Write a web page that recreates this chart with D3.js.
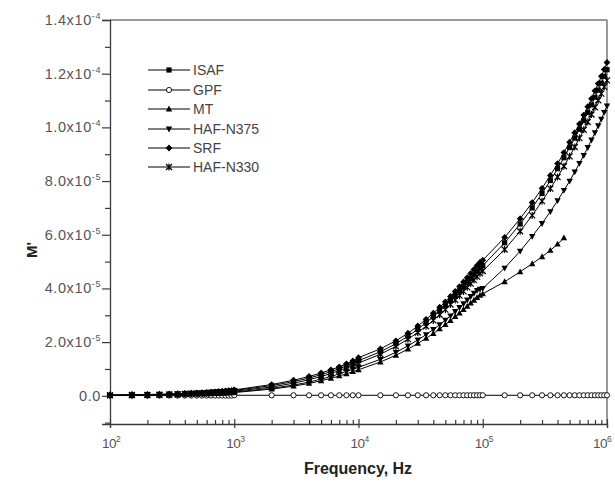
<!DOCTYPE html>
<html><head><meta charset="utf-8">
<script src="https://cdn.jsdelivr.net/npm/d3@7"></script>
<style>body{margin:0;background:#fff}svg{display:block}</style>
</head><body>
<svg id="chart" width="615" height="484"></svg>
<script>
// Frequencies (Hz)
const freqDec2 = [100,150,200,250,300,350,400,450,500,550,600,650,700,750,800,850,900,950];
const freqDec3 = [1000,2000,3000,4000,5000,6000,7000,8000,9000];
const freqDec4 = [10000,15000,20000,25000,30000,35000,40000,45000,50000,55000,60000,65000,70000,75000,80000,85000,90000,95000];
const freqDec5 = [100000,150000,200000,250000,300000,350000,400000,450000,500000,550000,600000,650000,700000,750000,800000,850000,900000,950000,1000000];
const frequency = freqDec2.concat(freqDec3, freqDec4, freqDec5);

// M' values in units of 1e-5
const ISAF = [0.02,0.03,0.04,0.05,0.06,0.07,0.08,0.09,0.10,0.11,0.12,0.13,0.14,0.15,0.15,0.16,0.17,0.18,
  0.20,0.38,0.53,0.66,0.79,0.90,1.01,1.11,1.21,
  1.31,1.64,1.94,2.22,2.48,2.72,2.95,3.16,3.36,3.55,3.73,3.90,4.06,4.22,4.37,4.51,4.64,4.76,
  4.85,5.70,6.40,7.00,7.54,8.02,8.46,8.87,9.25,9.60,9.93,10.25,10.55,10.84,11.12,11.39,11.65,11.90,12.15];
const GPF = [0.01,0.01,0.01,0.01,0.01,0.01,0.01,0.01,0.01,0.01,0.01,0.01,0.01,0.01,0.01,0.01,0.01,0.01,
  0.02,0.02,0.02,0.02,0.02,0.02,0.02,0.02,0.02,
  0.02,0.02,0.02,0.02,0.02,0.02,0.02,0.02,0.02,0.02,0.02,0.02,0.02,0.02,0.02,0.02,0.02,0.02,
  0.02,0.02,0.02,0.02,0.02,0.02,0.02,0.02,0.02,0.02,0.02,0.02,0.02,0.02,0.02,0.02,0.02,0.02,0.02];
const MT = [0.02,0.02,0.03,0.03,0.04,0.04,0.05,0.06,0.06,0.07,0.07,0.08,0.08,0.09,0.10,0.10,0.11,0.11,
  0.12,0.25,0.36,0.46,0.56,0.65,0.74,0.82,0.90,
  0.97,1.26,1.51,1.74,1.95,2.14,2.32,2.49,2.65,2.80,2.95,3.08,3.21,3.33,3.45,3.56,3.66,3.74,
  3.80,4.25,4.62,4.92,5.18,5.42,5.65,5.88];
const HAF_N375 = [0.02,0.02,0.03,0.04,0.04,0.05,0.06,0.06,0.07,0.08,0.08,0.09,0.10,0.10,0.11,0.12,0.12,0.13,
  0.14,0.28,0.40,0.51,0.62,0.72,0.82,0.91,0.99,
  1.06,1.36,1.62,1.86,2.08,2.28,2.47,2.65,2.82,2.98,3.14,3.29,3.43,3.57,3.70,3.82,3.93,3.97,
  4.00,4.76,5.39,5.94,6.42,6.86,7.27,7.65,8.00,8.34,8.66,8.96,9.25,9.53,9.80,10.06,10.31,10.56,10.80];
const SRF = [0.03,0.04,0.05,0.06,0.07,0.08,0.09,0.10,0.11,0.12,0.13,0.14,0.15,0.16,0.17,0.18,0.19,0.20,
  0.22,0.42,0.58,0.72,0.85,0.97,1.08,1.19,1.30,
  1.42,1.75,2.05,2.33,2.60,2.85,3.08,3.30,3.50,3.70,3.89,4.07,4.24,4.40,4.56,4.71,4.85,4.97,
  5.05,5.90,6.60,7.20,7.73,8.21,8.65,9.06,9.45,9.80,10.13,10.46,10.77,11.07,11.36,11.63,11.90,12.16,12.42];
const HAF_N330 = [0.02,0.03,0.03,0.04,0.05,0.06,0.07,0.08,0.08,0.09,0.10,0.11,0.12,0.12,0.13,0.14,0.15,0.16,
  0.17,0.33,0.47,0.60,0.72,0.83,0.94,1.04,1.13,
  1.22,1.55,1.84,2.11,2.36,2.59,2.81,3.02,3.21,3.40,3.57,3.73,3.89,4.04,4.18,4.31,4.44,4.56,
  4.65,5.45,6.13,6.72,7.25,7.72,8.15,8.55,8.92,9.27,9.60,9.91,10.20,10.48,10.75,11.01,11.26,11.51,11.75];

const seriesNames = ["ISAF","GPF","MT","HAF-N375","SRF","HAF-N330"];
const seriesValues = [ISAF, GPF, MT, HAF_N375, SRF, HAF_N330];
const seriesSymbols = ["square","circleOpen","triUp","triDown","diamond","asterisk"];

const yTickValues = [0,2,4,6,8,10,12,14];
const yTickMant = ["0.0","2.0x10","4.0x10","6.0x10","8.0x10","1.0x10","1.2x10","1.4x10"];
const yTickExp = ["","-5","-5","-5","-5","-4","-4","-4"];
const xTickValues = [1e2,1e3,1e4,1e5,1e6];
const xTickExp = ["2","3","4","5","6"];

const svg = d3.select("#chart");
const L = 110, R = 607, T = 20, B = 424;
const x = d3.scaleLog().domain([1e2,1e6]).range([L,R]);
const y = d3.scaleLinear().domain([-1.05,14]).range([B,T]);

const axisColor = "#3a3a3a", labelColor = "#555";
const font = "Arial, 'Liberation Sans', sans-serif";

// frame
svg.append("line").attr("x1",L).attr("x2",R).attr("y1",T).attr("y2",T).attr("stroke","#777").attr("stroke-width",1.5);
svg.append("line").attr("x1",R).attr("x2",R).attr("y1",T).attr("y2",B).attr("stroke","#777").attr("stroke-width",1.5);

// y axis
const yMinor = d3.range(-1,15,2);
const yAxis = d3.axisLeft(y).tickValues(yTickValues).tickSize(8).tickFormat("");
const gy = svg.append("g").attr("transform",`translate(${L},0)`).call(yAxis);
gy.selectAll("line").attr("stroke",axisColor).attr("stroke-width",1.2);
gy.select(".domain").attr("stroke",axisColor).attr("stroke-width",1.3);
const gyMinor = svg.append("g").attr("transform",`translate(${L},0)`).call(d3.axisLeft(y).tickValues(yMinor).tickSize(5).tickFormat(""));
gyMinor.select(".domain").remove();
gyMinor.selectAll("line").attr("stroke",axisColor).attr("stroke-width",1.2);

yTickValues.forEach((v,i)=>{
  const t = svg.append("text").attr("x",101).attr("y",y(v)+5)
    .attr("text-anchor","end").attr("font-family",font).attr("font-size",14.5)
    .attr("fill",labelColor).attr("letter-spacing",0.6);
  t.append("tspan").text(yTickMant[i]);
  if (yTickExp[i]) t.append("tspan").attr("dy",-6).attr("font-size",9).text(yTickExp[i]);
});

// x axis
const xMinor = [];
[1e2,1e3,1e4,1e5].forEach(d=>{for(let k=2;k<=9;k++) xMinor.push(d*k);});
const gx = svg.append("g").attr("transform",`translate(0,${B})`).call(d3.axisBottom(x).tickValues(xTickValues).tickSize(4).tickFormat(""));
gx.select(".domain").attr("stroke",axisColor).attr("stroke-width",1.3);
gx.selectAll(".tick line").attr("y1",-5).attr("stroke",axisColor).attr("stroke-width",1.2);
const gxMinor = svg.append("g").attr("transform",`translate(0,${B})`).call(d3.axisBottom(x).tickValues(xMinor).tickSize(-4).tickFormat(""));
gxMinor.select(".domain").remove();
gxMinor.selectAll("line").attr("stroke",axisColor).attr("stroke-width",1.2);

xTickValues.forEach((v,i)=>{
  const t = svg.append("text").attr("x",x(v)-8).attr("y",448)
    .attr("text-anchor","start").attr("font-family",font).attr("font-size",13.5)
    .attr("fill",labelColor).attr("letter-spacing",-0.5);
  t.append("tspan").text("10");
  t.append("tspan").attr("dy",-6).attr("font-size",8.5).attr("letter-spacing",0).text(xTickExp[i]);
  const bb = t.node().getBBox();
  if (bb.x + bb.width > 612) t.attr("x", x(v) - 8 - (bb.x + bb.width - 612));
});

// axis titles
svg.append("text").attr("x",358).attr("y",474).attr("text-anchor","middle")
  .attr("font-family",font).attr("font-weight","bold").attr("font-size",16).attr("fill","#222")
  .text("Frequency, Hz");
svg.append("text").attr("transform",`translate(37,250) rotate(-90)`).attr("text-anchor","middle")
  .attr("font-family",font).attr("font-weight","bold").attr("font-size",15).attr("fill","#222")
  .text("M'");

// symbols
function drawSymbol(g, type, cx, cy) {
  const s = 2.6;
  if (type === "square") g.append("rect").attr("x",cx-s).attr("y",cy-s).attr("width",2*s).attr("height",2*s).attr("fill","#000");
  else if (type === "circleOpen") g.append("circle").attr("cx",cx).attr("cy",cy).attr("r",2.6).attr("fill","#fff").attr("stroke","#000").attr("stroke-width",0.9);
  else if (type === "triUp") g.append("path").attr("d",`M${cx},${cy-3.4}L${cx+3.2},${cy+2.4}L${cx-3.2},${cy+2.4}Z`).attr("fill","#000");
  else if (type === "triDown") g.append("path").attr("d",`M${cx},${cy+3.4}L${cx+3.2},${cy-2.4}L${cx-3.2},${cy-2.4}Z`).attr("fill","#000");
  else if (type === "diamond") g.append("path").attr("d",`M${cx},${cy-3.4}L${cx+3.4},${cy}L${cx},${cy+3.4}L${cx-3.4},${cy}Z`).attr("fill","#000");
  else if (type === "asterisk") {
    g.append("path").attr("d",`M${cx-3},${cy-3}L${cx+3},${cy+3}M${cx+3},${cy-3}L${cx-3},${cy+3}M${cx},${cy-3.5}L${cx},${cy+3.5}`)
      .attr("stroke","#000").attr("stroke-width",1.2).attr("fill","none");
  }
}

const line = d3.line().x(d=>x(d[0])).y(d=>y(d[1]));
const plot = svg.append("g");
seriesValues.forEach((vals,si)=>{
  const pts = vals.map((v,i)=>[frequency[i], v]);
  plot.append("path").datum(pts).attr("d",line).attr("fill","none").attr("stroke","#000").attr("stroke-width",1);
});
seriesValues.forEach((vals,si)=>{
  const g = plot.append("g");
  vals.forEach((v,i)=> drawSymbol(g, seriesSymbols[si], x(frequency[i]), y(v)));
});

// legend
const legendY = [70,90,109,129,148,167];
seriesNames.forEach((n,i)=>{
  const g = svg.append("g");
  g.append("line").attr("x1",148).attr("x2",190).attr("y1",legendY[i]).attr("y2",legendY[i]).attr("stroke","#000").attr("stroke-width",1);
  drawSymbol(g, seriesSymbols[i], 169, legendY[i]);
  g.append("text").attr("x",193).attr("y",legendY[i]+5).attr("font-family",font).attr("font-size",14)
    .attr("fill","#444").text(n);
});
</script>
</body></html>
